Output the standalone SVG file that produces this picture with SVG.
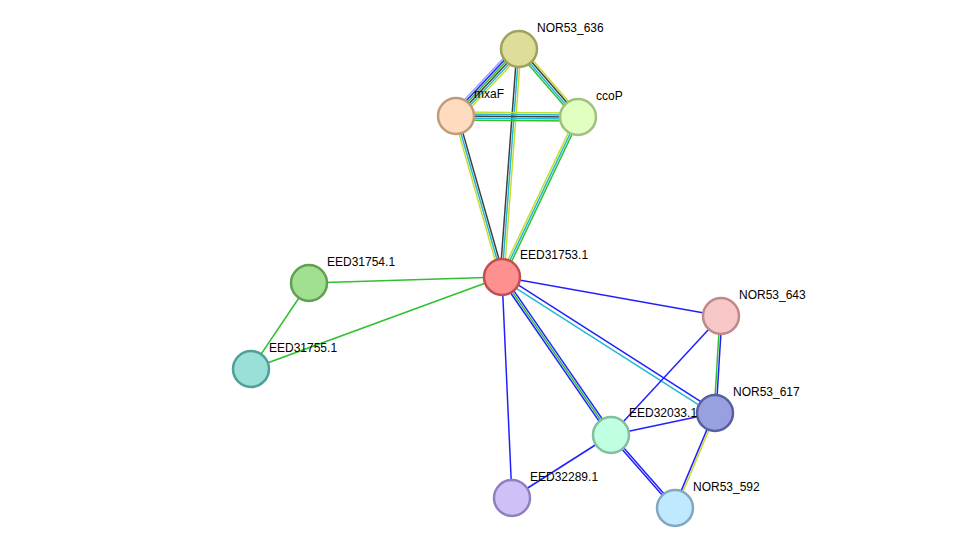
<svg xmlns="http://www.w3.org/2000/svg" width="976" height="554" viewBox="0 0 976 554">
<style>
line{stroke-width:1.5;fill:none}
.b{stroke:#2020ff}.g{stroke:#30c030}.k{stroke:#404040}.c{stroke:#20b8d8}.y{stroke:#c8dc30}.p{stroke:#a0a0ff}
circle{stroke-width:2.5}
text{font-family:"Liberation Sans",Arial,sans-serif;font-size:12px;fill:#000}
</style>
<rect width="976" height="554" fill="#fff"/>
<g id="edges">
<line class="p" x1="519" y1="49" x2="456" y2="116" transform="translate(-3.6,-3.4)"/>
<line class="b" x1="519" y1="49" x2="456" y2="116" transform="translate(-2.2,-2.1)"/>
<line class="g" x1="519" y1="49" x2="456" y2="116" transform="translate(-0.7,-0.7)"/>
<line class="k" x1="519" y1="49" x2="456" y2="116" transform="translate(0.7,0.7)"/>
<line class="c" x1="519" y1="49" x2="456" y2="116" transform="translate(2.2,2.1)"/>
<line class="y" x1="519" y1="49" x2="456" y2="116" transform="translate(3.6,3.4)"/>
<line class="y" x1="519" y1="49" x2="578" y2="117" transform="translate(2.3,-2)"/>
<line class="k" x1="519" y1="49" x2="578" y2="117" transform="translate(0.8,-0.7)"/>
<line class="c" x1="519" y1="49" x2="578" y2="117" transform="translate(-0.8,0.7)"/>
<line class="g" x1="519" y1="49" x2="578" y2="117" transform="translate(-2.3,2)"/>
<line class="k" x1="519" y1="49" x2="502" y2="277" transform="translate(-2,-0.1)"/>
<line class="c" x1="519" y1="49" x2="502" y2="277"/>
<line class="y" x1="519" y1="49" x2="502" y2="277" transform="translate(2,0.1)"/>
<line class="y" x1="456" y1="116" x2="578" y2="117" transform="translate(0,-4)"/>
<line class="c" x1="456" y1="116" x2="578" y2="117" transform="translate(0,-2)"/>
<line class="k" x1="456" y1="116" x2="578" y2="117"/>
<line class="c" x1="456" y1="116" x2="578" y2="117" transform="translate(0,2)"/>
<line class="g" x1="456" y1="116" x2="578" y2="117" transform="translate(0,4)"/>
<line class="y" x1="456" y1="116" x2="502" y2="277" transform="translate(-1.9,0.6)"/>
<line class="c" x1="456" y1="116" x2="502" y2="277"/>
<line class="k" x1="456" y1="116" x2="502" y2="277" transform="translate(1.9,-0.6)"/>
<line class="y" x1="578" y1="117" x2="502" y2="277" transform="translate(-1.8,-0.9)"/>
<line class="c" x1="578" y1="117" x2="502" y2="277"/>
<line class="g" x1="578" y1="117" x2="502" y2="277" transform="translate(1.8,0.9)"/>
<line class="g" x1="502" y1="277" x2="309" y2="283"/>
<line class="g" x1="502" y1="277" x2="251" y2="369"/>
<line class="g" x1="309" y1="283" x2="251" y2="369"/>
<line class="b" x1="502" y1="277" x2="721" y2="316"/>
<line class="b" x1="502" y1="277" x2="715" y2="413" transform="translate(1.1,-1.7)"/>
<line class="c" x1="502" y1="277" x2="715" y2="413" transform="translate(-1.1,1.7)"/>
<line class="b" x1="502" y1="277" x2="611" y2="435" transform="translate(-1.6,1.1)"/>
<line class="g" x1="502" y1="277" x2="611" y2="435"/>
<line class="b" x1="502" y1="277" x2="611" y2="435" transform="translate(1.6,-1.1)"/>
<line class="b" x1="502" y1="277" x2="512" y2="498"/>
<line class="b" x1="721" y1="316" x2="611" y2="435"/>
<line class="g" x1="721" y1="316" x2="715" y2="413" transform="translate(-1,0)"/>
<line class="b" x1="721" y1="316" x2="715" y2="413" transform="translate(1,0)"/>
<line class="b" x1="715" y1="413" x2="611" y2="435"/>
<line class="b" x1="715" y1="413" x2="675" y2="508" transform="translate(-0.9,-0.4)"/>
<line class="y" x1="715" y1="413" x2="675" y2="508" transform="translate(0.9,0.4)"/>
<line class="b" x1="611" y1="435" x2="675" y2="508" transform="translate(-0.8,0.7)"/>
<line class="b" x1="611" y1="435" x2="675" y2="508" transform="translate(0.8,-0.7)"/>
<line class="b" x1="611" y1="435" x2="512" y2="498"/>
</g>
<g id="NOR53_636"><circle cx="519" cy="49" r="18" fill="#dede99" stroke="#a0a060"/><text x="537" y="32">NOR53_636</text></g>
<g id="mxaF"><circle cx="456" cy="116" r="18" fill="#ffdcc0" stroke="#c09c7c"/><text x="474" y="98">mxaF</text></g>
<g id="ccoP"><circle cx="578" cy="117" r="18" fill="#e0ffc0" stroke="#a0c080"/><text x="596" y="100">ccoP</text></g>
<g id="EED31753.1"><circle cx="502" cy="277" r="18" fill="#ff9090" stroke="#c05050"/><text x="520" y="259">EED31753.1</text></g>
<g id="EED31754.1"><circle cx="309" cy="283" r="18" fill="#a0e090" stroke="#60a050"/><text x="327" y="266">EED31754.1</text></g>
<g id="EED31755.1"><circle cx="251" cy="369" r="18" fill="#98e0d8" stroke="#50a098"/><text x="269" y="352">EED31755.1</text></g>
<g id="NOR53_643"><circle cx="721" cy="316" r="18" fill="#f8c8c8" stroke="#c08888"/><text x="739" y="299">NOR53_643</text></g>
<g id="NOR53_617"><circle cx="715" cy="413" r="18" fill="#98a0e0" stroke="#5860a0"/><text x="733" y="396">NOR53_617</text></g>
<g id="EED32033.1"><circle cx="611" cy="435" r="18" fill="#c0ffe0" stroke="#80c0a0"/><text x="629" y="417">EED32033.1</text></g>
<g id="EED32289.1"><circle cx="512" cy="498" r="18" fill="#d0c0f8" stroke="#9080c0"/><text x="530" y="481">EED32289.1</text></g>
<g id="NOR53_592"><circle cx="675" cy="508" r="18" fill="#c0e8ff" stroke="#80a8c0"/><text x="693" y="491">NOR53_592</text></g>
</svg>
